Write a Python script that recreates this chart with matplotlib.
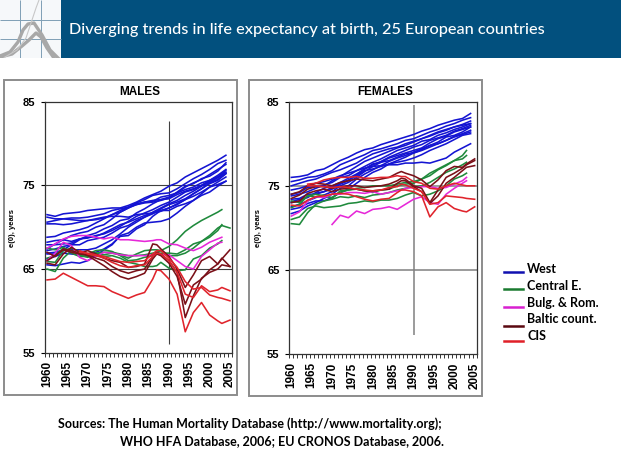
import numpy as np
import matplotlib
matplotlib.use("Agg")
import matplotlib.pyplot as plt
from matplotlib.lines import Line2D
from matplotlib.patches import Rectangle

W, H = 621, 466

# annees des points
years_west = [1960, 1962, 1964, 1966, 1968, 1970, 1972, 1974, 1976, 1978, 1980, 1982,
              1984, 1986, 1988, 1990, 1992, 1994, 1996, 1998, 2000, 2002, 2004]
years_east = [1960, 1962, 1964, 1966, 1968, 1970, 1972, 1974, 1976, 1978, 1980, 1982,
              1984, 1986, 1987, 1988, 1990, 1992, 1994, 1996, 1998, 2000, 2002, 2003, 2005]
n = np.nan

# hommes
west_m = [
    [71.5, 71.3, 71.6, 71.7, 71.8, 72.0, 72.1, 72.2, 72.3, 72.3, 72.6, 73.0, 73.5, 73.9, 74.3, 74.9, 75.3, 76.0, 76.5, 77.0, 77.5, 78.0, 78.6],
    [71.2, 71.0, 71.0, 71.1, 71.1, 71.2, 71.4, 71.6, 72.0, 72.2, 72.4, 72.7, 72.9, 73.0, 73.2, 73.5, 74.2, 74.9, 75.2, 75.8, 76.1, 76.7, 77.7],
    [70.6, 70.8, 71.0, 70.9, 70.8, 70.8, 70.9, 71.1, 71.5, 71.8, 72.3, 72.7, 73.0, 73.1, 73.6, 73.8, 74.1, 74.5, 74.8, 75.3, 75.6, 76.2, 76.9],
    [68.8, 68.9, 69.3, 69.5, 69.7, 70.0, 70.5, 71.0, 71.5, 72.0, 72.4, 72.9, 73.3, 73.8, 74.0, 74.1, 74.6, 75.2, 75.8, 76.3, 76.9, 77.6, 78.0],
    [67.4, 68.0, 68.5, 69.0, 69.3, 69.5, 70.0, 70.3, 71.0, 71.8, 72.3, 72.8, 73.0, 73.2, 73.3, 73.4, 73.9, 74.3, 74.6, 75.0, 75.6, 76.0, 76.6],
    [67.2, 67.4, 67.7, 67.9, 68.5, 69.0, 69.3, 69.8, 70.2, 70.8, 71.0, 71.7, 72.2, 72.8, 73.3, 73.6, 74.1, 74.8, 75.3, 75.7, 76.3, 76.9, 77.5],
    [66.9, 67.0, 67.3, 67.9, 67.9, 68.4, 68.6, 68.8, 69.3, 69.9, 70.2, 70.8, 71.2, 71.6, 72.2, 72.7, 73.0, 73.4, 74.0, 74.6, 75.2, 75.6, 76.4],
    [66.2, 66.5, 66.9, 66.8, 66.7, 66.6, 67.0, 67.4, 68.0, 68.9, 69.0, 69.8, 70.3, 71.3, 72.0, 72.3, 72.8, 73.3, 74.0, 74.6, 75.3, 75.7, 76.4],
    [66.8, 66.8, 67.2, 67.3, 67.3, 67.3, 67.5, 68.0, 68.5, 69.2, 70.0, 70.6, 71.2, 71.8, 72.3, 72.8, 73.2, 73.8, 74.3, 74.9, 75.4, 75.9, 76.5],
    [67.9, 67.9, 68.0, 68.1, 68.6, 68.7, 69.0, 69.2, 69.6, 70.1, 70.7, 71.3, 71.7, 72.1, 72.6, 73.0, 73.6, 74.2, 74.5, 75.0, 75.5, 76.0, 76.8],
    [65.5, 65.4, 65.6, 65.8, 65.7, 66.0, 66.6, 67.3, 67.9, 69.0, 69.3, 70.0, 70.5, 70.6, 70.7, 71.0, 71.7, 72.5, 73.2, 73.8, 74.2, 74.9, 75.5],
    [68.2, 68.4, 68.5, 68.3, 68.6, 68.8, 68.9, 69.3, 69.8, 70.3, 70.6, 71.0, 71.4, 71.7, 71.9, 72.3, 72.7, 73.3, 73.7, 74.2, 74.8, 75.4, 76.0],
    [70.4, 70.4, 70.3, 70.4, 70.6, 70.8, 71.0, 71.2, 71.3, 71.3, 71.2, 71.5, 71.6, 71.7, 72.0, 72.0, 72.5, 72.8, 73.2, 74.0, 74.8, 75.1, 75.5],
]
central_m = [
    [67.5, 67.3, 67.6, 66.9, 66.5, 66.5, 66.9, 67.0, 67.0, 66.8, 66.6, 66.6, 66.7, 66.9, 67.0, 67.2, 67.7, 68.5, 69.5, 70.2, 70.8, 71.3, 71.8, 72.1, n],
    [66.3, 66.6, 67.5, 67.2, 66.8, 66.5, 66.9, 66.7, 66.9, 66.7, 66.3, 66.8, 67.2, 67.3, 67.3, 67.2, 66.6, 66.6, 66.9, 67.5, 68.3, 68.8, 69.6, 70.3, n],
    [65.9, 65.8, 67.2, 67.5, 67.1, 66.8, 67.2, 67.3, 67.1, 66.6, 66.0, 66.1, 66.4, 66.6, 66.8, 66.9, 66.9, 66.8, 67.3, 68.0, 68.3, 69.0, 69.9, 70.2, 69.9],
    [65.0, 64.7, 66.3, 67.2, 66.7, 66.4, 66.8, 66.5, 66.6, 66.3, 65.8, 65.6, 65.3, 65.3, 65.4, 65.8, 65.1, 64.8, 64.9, 66.2, 66.6, 67.5, 68.0, 68.4, n],
]
balkan_m = [
    [67.5, 68.0, 68.6, 68.9, 69.0, 69.0, 68.8, 68.6, 68.8, 68.5, 68.5, 68.4, 68.3, 68.4, 68.5, 68.5, 68.0, 67.9, 67.5, 67.2, 67.6, 68.2, 68.6, 68.8, n],
    [66.0, 66.9, 68.2, 67.8, 66.4, 66.0, 66.5, 67.0, 66.9, 66.7, 66.6, 66.6, 66.6, 66.7, 66.8, 66.7, 66.7, 66.0, 65.3, 65.0, 66.5, 67.3, 68.1, 68.2, n],
]
baltic_m = [
    [66.0, 66.6, 67.3, 67.0, 66.8, 66.7, 66.3, 66.0, 65.3, 64.8, 64.5, 64.8, 65.0, 66.5, 67.0, 66.8, 66.0, 64.6, 59.2, 61.8, 63.9, 64.6, 65.0, 65.5, 65.3],
    [65.7, 65.5, 66.8, 67.6, 67.0, 66.6, 66.0, 65.4, 64.7, 64.1, 63.8, 64.1, 64.5, 66.2, 66.8, 66.6, 65.7, 64.1, 60.8, 63.1, 63.8, 64.9, 65.6, 66.3, 65.3],
    [67.0, 66.5, 67.4, 67.2, 66.9, 67.2, 66.8, 66.3, 66.0, 65.8, 65.2, 65.3, 65.6, 68.0, 67.9, 67.4, 66.5, 65.0, 62.8, 64.3, 66.0, 66.5, 65.6, 66.2, 67.3],
]
cis_m = [
    [63.7, 63.8, 64.5, 64.0, 63.5, 63.0, 63.0, 62.9, 62.3, 61.9, 61.5, 61.9, 62.2, 63.8, 64.9, 64.8, 63.8, 62.0, 57.5, 59.8, 61.0, 59.5, 58.8, 58.5, 58.9],
    [n, n, n, n, 67.0, 66.9, 66.7, 66.5, 66.2, 65.9, 65.8, 65.9, 66.0, 66.8, 67.2, 67.2, 66.3, 65.2, 63.5, 62.6, 62.8, 61.9, 61.6, 61.5, 61.2],
    [n, n, n, n, 67.2, 66.8, 66.6, 66.3, 65.8, 65.4, 65.2, 65.4, 65.5, 66.5, 66.9, 66.8, 66.0, 64.6, 62.0, 61.6, 63.0, 62.3, 62.5, 62.8, 62.4],
]

# femmes
west_f = [
    [76.0, 76.1, 76.3, 76.8, 77.0, 77.5, 78.0, 78.4, 78.9, 79.3, 79.5, 79.9, 80.2, 80.5, 80.8, 81.1, 81.5, 81.8, 82.2, 82.5, 82.8, 83.0, 83.6],
    [75.5, 75.7, 76.0, 76.1, 76.4, 76.8, 77.5, 77.9, 78.3, 78.7, 79.2, 79.4, 79.7, 80.0, 80.4, 80.6, 81.0, 81.4, 81.7, 82.1, 82.4, 82.8, 83.1],
    [75.0, 75.3, 75.6, 75.8, 76.2, 76.6, 76.9, 77.3, 77.7, 78.3, 78.8, 79.1, 79.4, 79.6, 80.0, 80.3, 80.6, 80.9, 81.3, 81.6, 82.0, 82.3, 82.7],
    [74.0, 74.2, 74.8, 74.9, 75.0, 75.6, 76.1, 76.7, 77.3, 77.9, 78.3, 78.7, 79.1, 79.5, 79.8, 80.2, 80.6, 81.0, 81.4, 81.7, 82.0, 82.2, 82.4],
    [73.8, 74.0, 74.3, 74.7, 75.1, 75.4, 76.0, 76.2, 76.8, 77.3, 77.8, 78.2, 78.7, 79.2, 79.5, 79.8, 80.3, 80.5, 81.0, 81.3, 81.7, 82.0, 82.4],
    [73.0, 73.2, 73.7, 74.1, 74.3, 74.6, 75.2, 75.6, 76.3, 77.0, 77.5, 77.9, 78.4, 78.8, 79.2, 79.6, 79.9, 80.4, 80.7, 81.0, 81.5, 81.8, 82.2],
    [72.5, 72.8, 73.2, 73.6, 73.9, 74.3, 75.0, 75.4, 76.0, 76.7, 77.3, 77.8, 78.3, 78.6, 78.9, 79.2, 79.5, 80.1, 80.6, 80.9, 81.4, 81.7, 82.0],
    [71.7, 72.0, 72.6, 73.0, 73.5, 74.0, 74.7, 75.0, 75.8, 76.4, 76.9, 77.4, 77.9, 78.3, 78.6, 79.0, 79.4, 79.8, 80.0, 80.4, 80.9, 81.2, 81.6],
    [72.2, 72.4, 72.9, 73.2, 73.2, 73.6, 74.2, 74.6, 75.3, 76.0, 76.6, 77.0, 77.6, 78.0, 78.4, 78.9, 79.3, 79.8, 80.2, 80.8, 81.0, 81.4, 82.0],
    [73.4, 73.5, 74.0, 74.0, 74.3, 74.8, 75.3, 75.7, 76.2, 76.8, 77.0, 77.3, 77.6, 77.8, 78.0, 78.3, 78.7, 79.2, 79.6, 80.0, 80.5, 81.0, 81.2],
    [73.1, 73.4, 73.6, 74.2, 74.7, 75.0, 75.4, 75.9, 76.4, 77.0, 77.6, 77.8, 78.0, 78.4, 78.8, 78.9, 79.2, 79.6, 80.0, 80.4, 80.8, 81.1, 81.4],
    [74.5, 74.7, 75.0, 75.3, 75.5, 75.8, 76.2, 76.5, 76.8, 77.1, 77.3, 77.4, 77.5, 77.5, 77.7, 77.7, 77.8, 77.7, 78.0, 78.3, 79.0, 79.5, 80.0],
]
central_f = [
    [73.2, 73.0, 73.8, 74.0, 73.8, 73.6, 74.2, 74.5, 74.7, 74.8, 75.0, 75.0, 75.0, 75.2, 75.3, 75.4, 75.5, 75.8, 76.2, 76.9, 77.4, 78.0, 78.6, 79.2, n],
    [72.4, 72.8, 73.8, 73.7, 73.9, 73.5, 74.4, 74.5, 74.6, 74.4, 74.2, 74.5, 74.6, 75.0, 75.1, 75.2, 75.3, 75.8, 76.5, 77.0, 77.5, 78.0, 78.2, 78.6, n],
    [70.5, 70.4, 71.8, 72.8, 73.2, 73.4, 73.7, 73.6, 73.8, 73.6, 73.9, 74.0, 74.2, 74.5, 74.6, 74.7, 74.9, 75.0, 75.4, 76.0, 76.6, 77.0, 77.5, 77.8, n],
    [71.0, 71.3, 72.3, 72.6, 72.4, 72.5, 72.6, 72.9, 73.0, 73.2, 73.1, 73.3, 73.3, 73.5, 73.7, 73.9, 74.2, 73.8, 74.0, 74.4, 75.0, 75.8, 76.2, 76.5, n],
]
balkan_f = [
    [71.4, 71.9, 73.2, 73.7, 73.6, 74.0, 74.0, 74.2, 74.2, 74.1, 74.3, 74.0, 74.2, 74.4, 74.5, 74.7, 74.8, 74.9, 74.9, 74.7, 74.8, 75.2, 75.6, 76.0, n],
    [n, n, n, n, n, 70.4, 71.5, 71.2, 72.0, 71.7, 72.2, 72.3, 72.5, 72.2, 72.5, 72.8, 73.4, 73.7, 73.0, 72.8, 74.0, 74.7, 75.3, 75.6, n],
]
baltic_f = [
    [73.5, 73.9, 74.6, 74.9, 74.9, 74.7, 74.9, 75.0, 75.0, 74.8, 74.9, 75.0, 75.2, 75.6, 75.9, 75.8, 75.0, 74.7, 73.0, 74.5, 76.0, 76.5, 77.1, 77.5, 78.0],
    [73.0, 73.2, 74.1, 74.4, 74.6, 74.3, 74.6, 74.7, 74.6, 74.4, 74.4, 74.5, 74.6, 75.3, 75.6, 75.6, 74.9, 74.3, 72.9, 73.8, 75.3, 76.0, 76.8, 77.2, 77.4],
    [74.0, 74.3, 75.0, 75.3, 75.2, 75.0, 75.4, 75.6, 75.8, 75.7, 75.6, 75.8, 76.0, 76.5, 76.7, 76.5, 76.2, 75.7, 74.9, 75.7, 76.8, 77.3, 77.2, 77.6, 78.2],
]
cis_f = [
    [72.7, 72.6, 73.3, 73.7, 73.8, 74.0, 74.1, 74.0, 73.7, 73.4, 73.2, 73.4, 73.5, 74.2, 74.5, 74.5, 74.3, 73.8, 71.3, 72.5, 73.0, 72.3, 72.0, 71.9, 72.5],
    [n, n, 75.2, 75.3, 75.7, 75.9, 76.0, 76.0, 76.1, 75.9, 75.9, 76.0, 76.0, 76.2, 76.1, 76.1, 75.5, 75.3, 74.7, 74.6, 75.0, 75.3, 75.1, 75.0, 75.0],
    [n, n, 75.0, 75.0, 74.9, 74.8, 74.9, 74.8, 74.6, 74.5, 74.4, 74.5, 74.8, 74.9, 75.2, 75.1, 74.7, 74.3, 72.8, 73.0, 73.8, 73.7, 73.6, 73.5, 73.4],
]

legend_labels = ["West", "Central E.", "Bulg. & Rom.", "Baltic count.", "CIS"]
colors = ["#1414d2", "#1f8a3c", "#e628d8", "#7a1018", "#e0242c"]
legend_colors = ["#1010b0", "#1a7a30", "#d820d0", "#5a0810", "#e02028"]
y_ticks = [55, 65, 75, 85]
x_labels = list(range(1960, 2006, 5))


def px_ax(x0, y0, x1, y1):
    # axes a partir de pixels, origine en haut a gauche
    return fig.add_axes([x0 / W, 1 - y1 / H, (x1 - x0) / W, (y1 - y0) / H])


def draw_panel(box, area, title, title_x, groups, grid_col, grid_lw, vspan, ylab_x):
    fig.add_artist(Rectangle((box[0] / W, 1 - box[3] / H), (box[2] - box[0]) / W, (box[3] - box[1]) / H,
                             transform=fig.transFigure, fc="none", ec="#8c8c8c", lw=1.4))
    ax = px_ax(*area)
    ax.set_xlim(1959.5, 2005.5)
    ax.set_ylim(55, 85)
    ax.hlines([65, 75], 1959.5, 2005.5, color=grid_col, lw=grid_lw, zorder=1)
    ax.vlines(1990, vspan[0], vspan[1], color=grid_col, lw=grid_lw, zorder=1)
    for (xs, series, col) in groups:
        for s in series:
            ax.plot(xs, s, color=col, lw=1.15, solid_joinstyle="round", zorder=3)
    for side in ["top", "right", "left", "bottom"]:
        ax.spines[side].set_color("#333333")
        ax.spines[side].set_linewidth(0.9)
    ax.set_yticks(y_ticks)
    ax.set_yticklabels(y_ticks, fontweight="bold", fontsize=8, family="Liberation Sans")
    ax.set_xticks(x_labels)
    ax.set_xticklabels(x_labels, rotation=90, fontweight="bold", fontsize=8.5, family="Liberation Sans")
    ax.set_xticks(np.arange(1959.5, 2006, 1), minor=True)
    ax.tick_params(axis="x", which="major", length=0, pad=6)
    ax.tick_params(axis="x", which="minor", length=3, width=0.7, color="#333333")
    ax.tick_params(axis="y", length=3, width=0.8, pad=4)
    fig.text(title_x / W, 1 - 92 / H, title, ha="center", va="center", fontweight="bold", fontsize=8.5,
             family="Liberation Sans")
    fig.text(ylab_x / W, 1 - 228 / H, "e(0), years", rotation=90, ha="center", va="center", fontweight="bold",
             fontsize=5.5, family="Liberation Sans")
    return ax


fig = plt.figure(figsize=(W / 100, H / 100), dpi=100, facecolor="white")

# bandeau du haut
banner = px_ax(0, 0, W, 58)
banner.set_facecolor("#02507e")
banner.set_xlim(0, W)
banner.set_ylim(58, 0)
banner.set_xticks([])
banner.set_yticks([])
for side in banner.spines.values():
    side.set_visible(False)
banner.add_patch(Rectangle((0, 0), 61, 58, fc="#f6f8fa", ec="none"))
banner.vlines([20, 41], 0, 58, color="#7f9fb5", lw=0.7)
banner.hlines([20, 39], 0, 61, color="#7f9fb5", lw=0.7)
banner.plot([0, 10, 18, 23, 28, 34, 42, 50, 58], [56, 52, 42, 30, 24, 23, 35, 50, 58], color="#a8a8a8", lw=2.4)
banner.plot([0, 12, 22, 29, 36, 41, 47, 54], [57, 54, 46, 40, 33, 37, 48, 58], color="#a8a8a8", lw=2.4)
banner.plot([5, 17, 26, 32, 36, 39], [57, 50, 38, 20, 8, 0], color="#c8c8c8", lw=0.8)
fig.text(69 / W, 1 - 30 / H, "Diverging trends in life expectancy at birth, 25 European countries",
         color="white", fontsize=11.7, va="center", family="Lato", fontweight="medium")

groups_m = [(years_west, west_m, colors[0]), (years_east, central_m, colors[1]),
            (years_east, balkan_m, colors[2]), (years_east, baltic_m, colors[3]), (years_east, cis_m, colors[4])]
groups_f = [(years_west, west_f, colors[0]), (years_east, central_f, colors[1]),
            (years_east, balkan_f, colors[2]), (years_east, baltic_f, colors[3]), (years_east, cis_f, colors[4])]

draw_panel((4, 80, 237, 395), (45, 101.7, 232, 352.7), "MALES", 140, groups_m, "#404040", 0.8, (56, 82.7), 13)
draw_panel((248.5, 80, 481.5, 396), (289.3, 101.7, 476.7, 354), "FEMALES", 385, groups_f, "#808080", 1.1, (57.2, 84.6), 258)

# legende
line_y = [272, 289, 307, 326, 341]
text_y = [269, 286, 303, 319, 336]
for lab, col, ly, ty in zip(legend_labels, legend_colors, line_y, text_y):
    fig.add_artist(Line2D([504 / W, 523 / W], [1 - ly / H, 1 - ly / H], color=col, lw=1.8))
    fig.text(527 / W, 1 - ty / H, lab, fontsize=9, fontweight="bold", va="center", family="Lato")

# sources
fig.text(58 / W, 1 - 424 / H, "Sources: The Human Mortality Database (http://www.mortality.org);",
         fontsize=9, fontweight="bold", va="center", family="Lato")
fig.text(120 / W, 1 - 441 / H, "WHO HFA Database, 2006; EU CRONOS Database, 2006.",
         fontsize=9, fontweight="bold", va="center", family="Lato")

fig.savefig("out.png", dpi=100)
